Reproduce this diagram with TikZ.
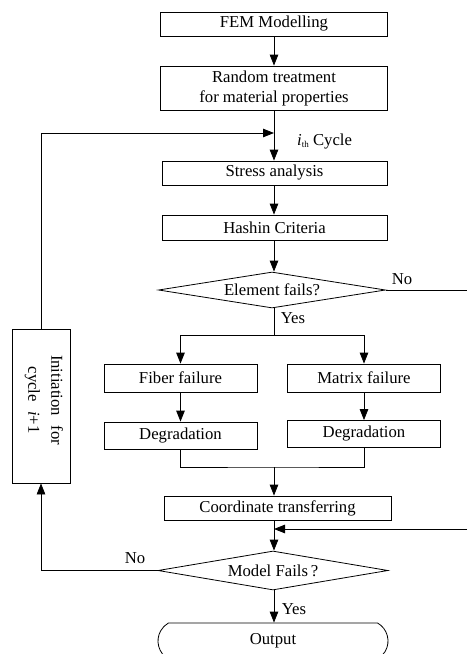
\documentclass[tikz,border=0pt]{standalone}
\usepackage{fontspec}
\setmainfont{Liberation Serif}
\usetikzlibrary{arrows.meta,shapes.geometric,shapes.misc}
\begin{document}
\begin{tikzpicture}[x=1pt,y=-1pt,
 every node/.style={font=\fontsize{16.7}{20}\selectfont},
 box/.style={draw, line width=0.8pt, rectangle, inner sep=0pt, align=center},
 dia/.style={draw, line width=0.8pt, diamond, shape aspect=6, inner sep=0pt},
 lbl/.style={inner sep=0pt},
 conn/.style={line width=0.8pt, -{Triangle[length=11pt,width=8.5pt]}},
 plain/.style={line width=0.8pt}]
\useasboundingbox (0,0) rectangle (467,654);
% main column
\node[box, minimum width=227pt, minimum height=24pt] (fem) at (274,24) {FEM Modelling};
\node[box, minimum width=227pt, minimum height=44pt] (rand) at (274,88) {Random treatment\\for material properties};
\node[box, minimum width=225pt, minimum height=24pt] (stress) at (274.5,173) {Stress analysis};
\node[box, minimum width=225pt, minimum height=25pt] (hashin) at (274.5,227.5) {Hashin Criteria};
\node[dia, minimum width=227pt, minimum height=36pt] (elem) at (272,290) {Element fails?};
\node[box, minimum width=153pt, minimum height=28pt] (fiber) at (180.5,378) {Fiber failure};
\node[box, minimum width=153pt, minimum height=28pt] (matrix) at (364,378) {Matrix failure};
\node[box, minimum width=153pt, minimum height=27pt] (deg1) at (180.5,435.5) {Degradation};
\node[box, minimum width=153pt, minimum height=27pt] (deg2) at (364,434) {Degradation};
\node[box, minimum width=227pt, minimum height=24pt] (coord) at (277.5,508) {Coordinate transferring};
\node[dia, minimum width=230pt, minimum height=39pt] (model) at (273,570.5) {Model Fails\,?};
\node[draw, line width=0.8pt, rounded rectangle, rounded rectangle arc length=120, inner sep=0pt,
      minimum width=230pt, minimum height=36pt] (out) at (273,641) {Output};
% init box
\node[box, minimum width=58pt, minimum height=154pt] (init) at (41,406) {};
\node[rotate=-90, align=center, inner sep=0pt, font=\fontsize{16.7}{23}\selectfont] (initt) at (44,400)
  {Initiation\hspace{5pt} for\\cycle\hspace{5pt} \textit{i}+1};
% labels
\node[lbl, anchor=west] (cyc) at (297,142) {\textit{i}\raisebox{-1.5pt}{\fontsize{9}{9}\selectfont th} Cycle};
\node[lbl] (no1) at (402,279) {No};
\node[lbl] (yes1) at (293,318) {Yes};
\node[lbl] (no2) at (135,558) {No};
\node[lbl] (yes2) at (294,609) {Yes};
% coordinates
\coordinate (c1) at (274,133);
\coordinate (noE) at (467,290);
\coordinate (sp) at (274,335);
\coordinate (mg) at (274,467);
\coordinate (rin) at (467,529);
\coordinate (rtip) at (274,529);
% connectors
\draw[conn] (fem) -- (fem |- rand.north);
\draw[conn] (rand.south -| c1) -- (c1 |- stress.north);
\draw[conn] (stress.south -| c1) -- (c1 |- hashin.north);
\draw[conn] (hashin.south -| c1) -- (c1 |- elem.north);
\draw[plain] (elem.east) -- (noE);
\draw[plain] (c1 |- elem.south) -- (sp);
\draw[conn] (sp) -| (fiber.north);
\draw[conn] (sp) -| (matrix.north);
\draw[conn] (fiber) -- (deg1);
\draw[conn] (matrix) -- (deg2);
\draw[plain] (deg1.south) |- (mg) -| (deg2.south);
\draw[conn] (mg) -- (mg |- coord.north);
\draw[conn] (rin) -- (rtip);
\draw[conn] (mg |- coord.south) -- (mg |- model.north);
\draw[conn] (model.west) -| (init.south);
\draw[conn] (init.north) |- (c1);
\draw[conn] (mg |- model.south) -- (mg |- out.north);
\end{tikzpicture}
\end{document}
